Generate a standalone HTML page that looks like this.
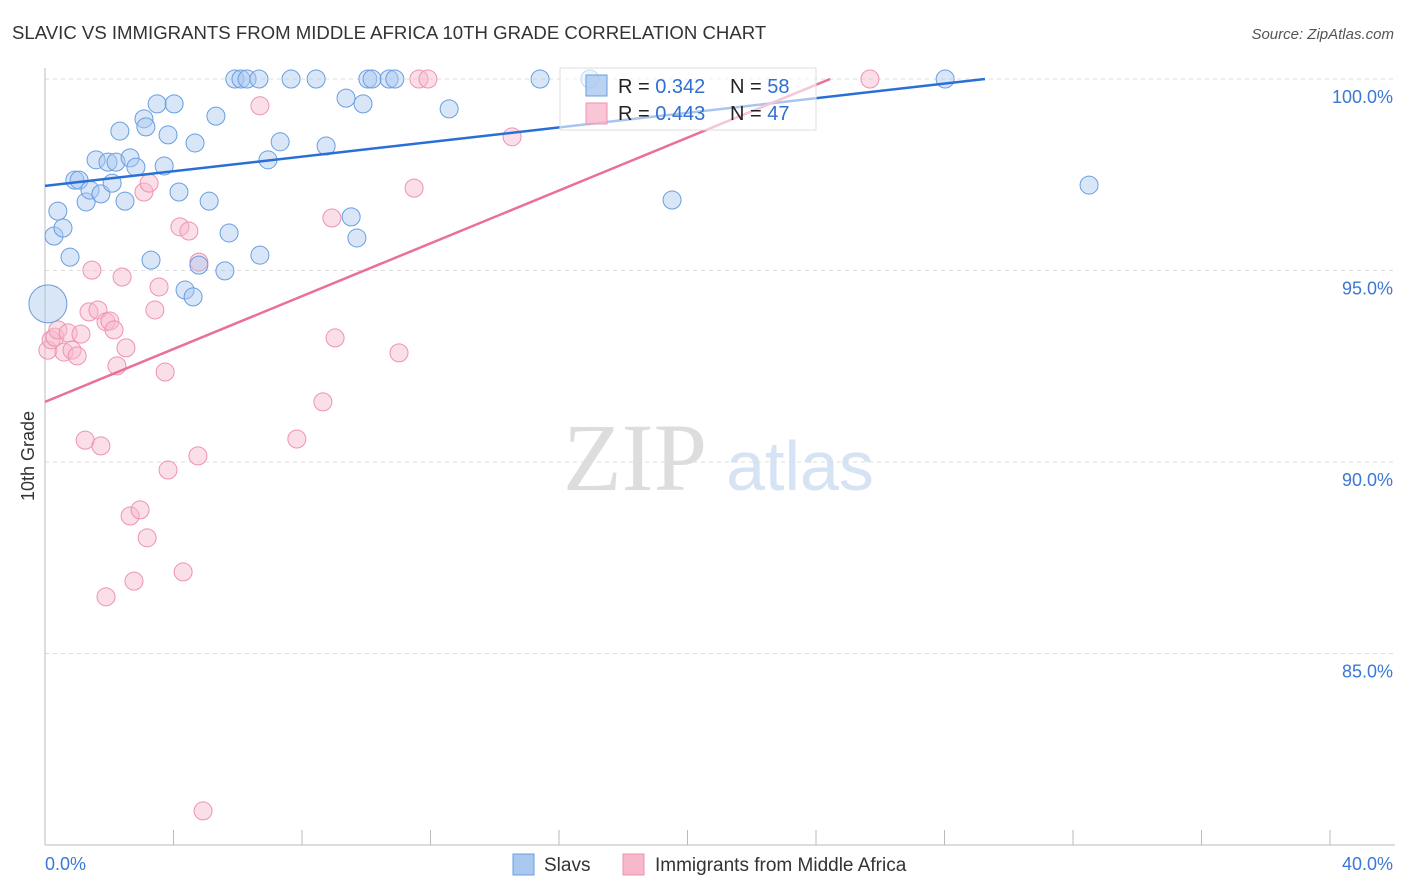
<!DOCTYPE html>
<html><head><meta charset="utf-8"><style>
body{margin:0;background:#fff;font-family:"Liberation Sans",sans-serif;}
svg{display:block}
</style></head><body>
<svg id="chart" width="1406" height="892">
<text x="12" y="39" font-size="18.6" fill="#333">SLAVIC VS IMMIGRANTS FROM MIDDLE AFRICA 10TH GRADE CORRELATION CHART</text>
<text x="1394" y="39" font-size="15" fill="#555" font-style="italic" text-anchor="end">Source: ZipAtlas.com</text>
<text x="34" y="456" font-size="18" fill="#333" transform="rotate(-90 34 456)" text-anchor="middle">10th Grade</text>
<g><text x="635" y="490" font-size="96" fill="#ddd" font-family="Liberation Serif" text-anchor="middle">ZIP</text><text x="800" y="490" font-size="70" fill="#d5e3f5" text-anchor="middle">atlas</text></g>
<g id="grid"></g><g id="axes"></g><g id="pts"></g><g id="trends"></g>
<g>
<rect x="560" y="68" width="256" height="62" fill="#fff" fill-opacity="0.6" stroke="#ddd"/>
<rect x="586" y="75" width="21" height="21" fill="#a9c8f0" fill-opacity="0.8" stroke="#6a9ee0"/>
<rect x="586" y="103" width="21" height="21" fill="#f7b8cb" fill-opacity="0.8" stroke="#ee93ae"/>
<text x="618" y="93" font-size="20" fill="#222">R = <tspan fill="#2f6fd1">0.342</tspan></text>
<text x="730" y="93" font-size="20" fill="#222">N = <tspan fill="#2f6fd1">58</tspan></text>
<text x="618" y="120" font-size="20" fill="#222">R = <tspan fill="#2f6fd1">0.443</tspan></text>
<text x="730" y="120" font-size="20" fill="#222">N = <tspan fill="#2f6fd1">47</tspan></text>
</g>
<g>
<rect x="513" y="854" width="21" height="21" fill="#a9c8f0" stroke="#6a9ee0"/>
<text x="544" y="871" font-size="19" fill="#333">Slavs</text>
<rect x="623" y="854" width="21" height="21" fill="#f7b8cb" stroke="#ee93ae"/>
<text x="655" y="871" font-size="19" fill="#333">Immigrants from Middle Africa</text>
</g>
</svg>
<script>
const yTicks=[100,95,90,85];
const xTickLabels=["0.0%","40.0%"];
const blueX=[0.09,0.28,0.40,0.56,0.78,0.93,1.06,1.28,1.40,1.59,1.74,1.96,2.09,2.21,2.49,2.65,2.83,2.33,3.08,3.14,3.30,3.49,3.71,3.83,4.02,4.17,4.36,4.61,4.67,4.79,5.11,5.32,5.60,5.73,5.91,6.10,6.29,6.66,6.69,6.94,7.32,7.66,8.44,8.75,9.37,9.53,9.71,9.90,10.05,10.18,10.71,10.89,12.58,15.41,16.96,19.52,28.02,32.50];
const blueY=[94.13,95.90,96.55,96.11,95.35,97.36,97.36,96.79,97.10,97.89,97.00,97.83,97.28,97.83,96.81,97.94,97.70,98.64,98.96,98.75,95.27,99.35,97.73,98.54,99.35,97.05,94.49,94.31,98.33,95.14,96.81,99.03,94.99,95.98,100,100,100,100,95.40,97.89,98.36,100,100,98.25,99.50,96.40,95.85,99.35,100,100,100,100,99.22,100,100,96.84,100,97.23];
const pinkX=[0.09,0.19,0.31,0.40,0.59,0.72,0.84,1.00,1.12,1.25,1.37,1.46,1.65,1.74,1.90,2.02,2.15,2.24,2.40,2.52,2.65,2.77,2.96,1.90,3.18,3.08,3.24,3.42,3.55,3.74,3.83,4.20,4.30,4.48,4.76,4.79,4.92,6.69,7.84,8.65,8.93,9.03,11.02,11.49,11.64,11.92,14.54,25.68];
const pinkY=[92.92,93.19,93.26,93.45,92.87,93.37,92.92,92.77,93.34,90.57,93.92,95.01,93.97,90.42,93.66,93.68,93.45,92.51,94.83,92.98,88.59,86.89,88.75,86.48,88.02,97.05,97.28,93.97,94.57,92.35,89.79,96.14,87.13,96.03,90.16,95.22,80.89,99.30,90.60,91.57,96.37,93.24,92.85,97.15,100,100,98.49,100];
const blueTrend=[0,97.21,29.26,100];
const pinkTrend=[0,91.57,24.44,100];
const NS="http://www.w3.org/2000/svg";
const xs=v=>45+v*32.125, ys=v=>79+(100-v)*38.3;
function mk(t,a,p){const e=document.createElementNS(NS,t);for(const k in a)e.setAttribute(k,a[k]);document.getElementById(p).appendChild(e);return e;}
yTicks.forEach(t=>{
 const l=mk('line',{x1:45,x2:1395,y1:ys(t),y2:ys(t),stroke:'#ddd','stroke-dasharray':'4,4'},'grid');
 
 
 const tx=mk('text',{x:1393,y:ys(t)+24,'font-size':18,fill:'#3a78d4','text-anchor':'end'},'grid');
 tx.textContent=t.toFixed(1)+'%';
 
 
});
let a=mk('line',{x1:45,x2:45,y1:68,y2:845,stroke:'#bbb'},'axes');

a=mk('line',{x1:45,x2:1395,y1:845,y2:845,stroke:'#bbb'},'axes');

for(let i=0;i<=10;i++){const t=mk('line',{x1:xs(i*4),x2:xs(i*4),y1:830,y2:845,stroke:'#bbb'},'axes');
 
 }
[[0,'start',45],[40,'end',1393]].forEach((d,i)=>{const t=mk('text',{x:d[2],y:870,'font-size':18,fill:'#3a78d4','text-anchor':d[1]},'axes');t.textContent=xTickLabels[i];
 
 });
pinkX.forEach((x,i)=>{const c=mk('circle',{cx:xs(x),cy:ys(pinkY[i]),r:9,fill:'#f7b8cb','fill-opacity':0.45,stroke:'#ee93ae','stroke-width':1},'pts');
 
 });
blueX.forEach((x,i)=>{const c=mk('circle',{cx:xs(x),cy:ys(blueY[i]),r:i===0?19:9,fill:'#a9c8f0','fill-opacity':0.45,stroke:'#6a9ee0','stroke-width':1},'pts');
 
 });
let t=mk('line',{x1:xs(blueTrend[0]),y1:ys(blueTrend[1]),x2:xs(blueTrend[2]),y2:ys(blueTrend[3]),stroke:'#2a6fd6','stroke-width':2.5},'trends');

t=mk('line',{x1:xs(pinkTrend[0]),y1:ys(pinkTrend[1]),x2:xs(pinkTrend[2]),y2:ys(pinkTrend[3]),stroke:'#e8709a','stroke-width':2.5},'trends');

</script>
</body></html>
